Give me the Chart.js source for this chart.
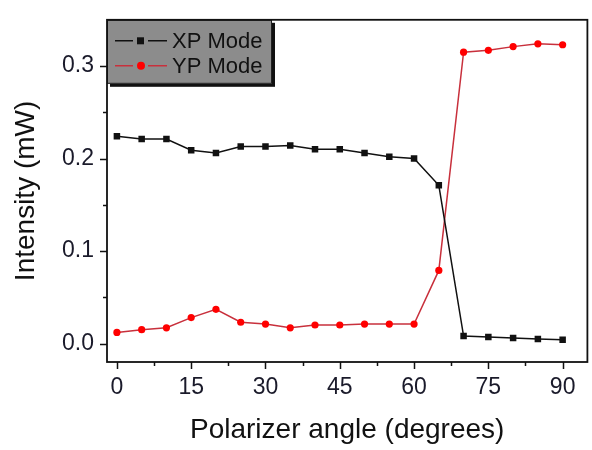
<!DOCTYPE html>
<html>
<head>
<meta charset="utf-8">
<script src="https://cdn.jsdelivr.net/npm/chart.js@4/dist/chart.umd.min.js"></script>
<style>
  html, body { margin: 0; padding: 0; background: #fff; }
  #wrap { width: 592px; height: 450px; }
</style>
</head>
<body>
<div id="wrap"><canvas id="chart"></canvas></div>
<script>
  'use strict';

  // polarizer angle (degrees)
  var ANGLES = [0, 5, 10, 15, 20, 25, 30, 35, 40, 45, 50, 55, 60, 65, 70, 75, 80, 85, 90];

  // intensity (mW)
  var XP_MODE = [0.224, 0.221, 0.221, 0.209, 0.206, 0.213, 0.213, 0.214, 0.210, 0.210,
                 0.206, 0.202, 0.200, 0.171, 0.008, 0.007, 0.006, 0.005, 0.004];
  var YP_MODE = [0.012, 0.015, 0.017, 0.028, 0.037, 0.023, 0.021, 0.017, 0.020, 0.020,
                 0.021, 0.021, 0.021, 0.079, 0.315, 0.317, 0.321, 0.324, 0.323];

  var X_MAJOR = [0, 15, 30, 45, 60, 75, 90];
  var X_MINOR = [7.5, 22.5, 37.5, 52.5, 67.5, 82.5];
  var Y_MAJOR = [0, 0.1, 0.2, 0.3];
  var Y_MINOR = [0.05, 0.15, 0.25];

  var FONT = '"Liberation Sans", Arial, sans-serif';
  var LINE_RED = '#c8303c';
  var DOT_RED = '#ff0000';

  function toPoints(ys) {
    return ANGLES.map(function (a, i) { return { x: a, y: ys[i] }; });
  }

  function isMultiple(v, step) {
    var r = v / step;
    return Math.abs(r - Math.round(r)) < 1e-6;
  }

  /* ---- frame, tick marks and legend box ---- */
  var framePlugin = {
    id: 'frame',
    afterDraw: function (chart) {
      var ctx = chart.ctx;
      var a = chart.chartArea;
      var xs = chart.scales.x;
      var ys = chart.scales.y;

      ctx.save();
      ctx.strokeStyle = '#111';
      ctx.lineWidth = 1.5;

      // tick marks, outward
      ctx.beginPath();
      X_MAJOR.forEach(function (v) {
        var px = Math.round(xs.getPixelForValue(v)) + 0.5;
        ctx.moveTo(px, a.bottom); ctx.lineTo(px, a.bottom + 7);
      });
      X_MINOR.forEach(function (v) {
        var px = Math.round(xs.getPixelForValue(v)) + 0.5;
        ctx.moveTo(px, a.bottom); ctx.lineTo(px, a.bottom + 4);
      });
      Y_MAJOR.forEach(function (v) {
        var py = Math.round(ys.getPixelForValue(v)) + 0.5;
        ctx.moveTo(a.left, py); ctx.lineTo(a.left - 7, py);
      });
      Y_MINOR.forEach(function (v) {
        var py = Math.round(ys.getPixelForValue(v)) + 0.5;
        ctx.moveTo(a.left, py); ctx.lineTo(a.left - 4, py);
      });
      ctx.stroke();

      // legend box (drawn over the plot, top-left corner)
      var lx = a.left, ly = a.top, lw = 165, lh = 64;
      ctx.fillStyle = '#111';
      ctx.fillRect(lx + 3, ly + 3, lw, lh);
      ctx.fillStyle = '#8c8c8c';
      ctx.fillRect(lx, ly, lw, lh);
      ctx.lineWidth = 1;
      ctx.strokeStyle = '#222';
      ctx.strokeRect(lx + 0.5, ly + 0.5, lw - 1, lh - 1);

      var rows = [
        { label: 'XP Mode', line: '#111', dot: '#111', style: 'rect', y: ly + 21 },
        { label: 'YP Mode', line: LINE_RED, dot: DOT_RED, style: 'circle', y: ly + 46 }
      ];
      rows.forEach(function (r) {
        ctx.strokeStyle = r.line;
        ctx.lineWidth = 1.5;
        ctx.beginPath();
        ctx.moveTo(lx + 8, r.y); ctx.lineTo(lx + 26, r.y);
        ctx.moveTo(lx + 41, r.y); ctx.lineTo(lx + 60, r.y);
        ctx.stroke();
        ctx.fillStyle = r.dot;
        if (r.style === 'rect') {
          ctx.fillRect(lx + 30, r.y - 3.5, 7, 7);
        } else {
          ctx.beginPath();
          ctx.arc(lx + 34, r.y, 4, 0, Math.PI * 2);
          ctx.fill();
        }
        ctx.fillStyle = '#111';
        ctx.font = '22px ' + FONT;
        ctx.textBaseline = 'middle';
        ctx.textAlign = 'left';
        ctx.fillText(r.label, lx + 65, r.y + 1);
      });

      // plot frame
      ctx.strokeStyle = '#111';
      ctx.lineWidth = 1.8;
      ctx.strokeRect(a.left, a.top, a.right - a.left, a.bottom - a.top);
      ctx.restore();
    }
  };

  var ctx = document.getElementById('chart');

  new Chart(ctx, {
    type: 'line',
    data: {
      datasets: [
        {
          label: 'XP Mode',
          data: toPoints(XP_MODE),
          borderColor: '#111',
          backgroundColor: '#111',
          borderWidth: 1.5,
          pointStyle: 'rect',
          pointRadius: 4.6,
          pointBorderWidth: 0,
          tension: 0,
        },
        {
          label: 'YP Mode',
          data: toPoints(YP_MODE),
          borderColor: LINE_RED,
          backgroundColor: DOT_RED,
          borderWidth: 1.5,
          pointStyle: 'circle',
          pointRadius: 3.6,
          pointBorderWidth: 0,
          tension: 0,
        },
      ],
    },
    options: {
      responsive: true,
      maintainAspectRatio: false,
      animation: false,
      layout: { padding: { top: 9, right: 3, left: 0, bottom: 0 } },
      plugins: {
        legend: { display: false },
        tooltip: { enabled: false },
      },
      scales: {
        x: {
          type: 'linear',
          min: -2,
          max: 95,
          afterFit: function (s) { s.height = 88; },
          afterBuildTicks: function (s) {
            s.ticks = X_MAJOR.map(function (v) { return { value: v }; });
          },
          border: { display: false },
          grid: { drawOnChartArea: false, color: 'rgba(0,0,0,0)', tickLength: 7 },
          ticks: {
            autoSkip: false,
            maxRotation: 0,
            padding: 5,
            color: '#1a1a2a',
            font: { family: FONT, size: 23 },
            callback: function (v) { return isMultiple(v, 15) ? String(Math.round(v)) : ''; },
          },
          title: {
            display: true,
            text: 'Polarizer angle (degrees)',
            color: '#111',
            font: { family: FONT, size: 28 },
            padding: { top: 0, bottom: 3 },
          },
        },
        y: {
          type: 'linear',
          min: -0.02,
          max: 0.35,
          afterFit: function (s) { s.width = 107; },
          afterBuildTicks: function (s) {
            s.ticks = Y_MAJOR.map(function (v) { return { value: v }; });
          },
          border: { display: false },
          grid: { drawOnChartArea: false, color: 'rgba(0,0,0,0)', tickLength: 7 },
          ticks: {
            autoSkip: false,
            padding: 6,
            color: '#1a1a2a',
            font: { family: FONT, size: 23 },
            callback: function (v) { return v.toFixed(1); },
          },
          title: {
            display: true,
            text: 'Intensity (mW)',
            color: '#111',
            font: { family: FONT, size: 28 },
            padding: { top: 9, bottom: 0 },
          },
        },
      },
    },
    plugins: [framePlugin],
  });
</script>
</body>
</html>
